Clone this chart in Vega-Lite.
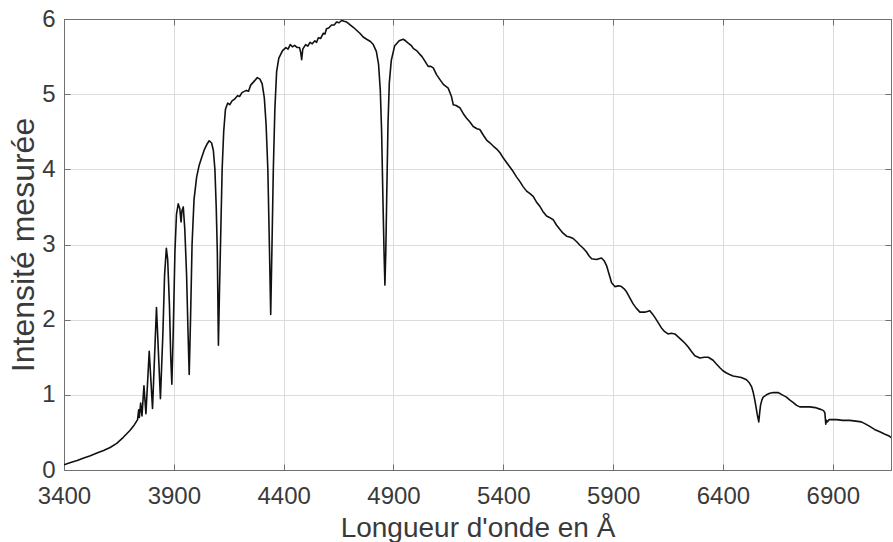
{
  "$schema": "https://vega.github.io/schema/vega-lite/v6.json",
  "width": 827,
  "height": 451,
  "autosize": {"type": "none"},
  "padding": {"left": 64, "top": 19, "right": 2, "bottom": 72},
  "background": "white",
  "config": {"view": {"stroke": null}, "font": "Liberation Sans"},
  "data": {"values": [
    {"w":3400,"v":0.07},{"w":3430,"v":0.1},{"w":3460,"v":0.125},{"w":3490,"v":0.16},{"w":3520,"v":0.19},{"w":3550,"v":0.225},{"w":3580,"v":0.26},{"w":3610,"v":0.3},{"w":3640,"v":0.355},{"w":3670,"v":0.435},{"w":3700,"v":0.525},{"w":3720,"v":0.6},{"w":3735,"v":0.67},{"w":3740,"v":0.8},{"w":3743,"v":0.7},{"w":3749,"v":0.89},{"w":3755,"v":0.72},{"w":3764,"v":1.12},{"w":3773,"v":0.75},{"w":3788,"v":1.58},{"w":3803,"v":0.82},{"w":3821,"v":2.16},{"w":3839,"v":0.95},{"w":3850,"v":1.8},{"w":3858,"v":2.6},{"w":3866,"v":2.95},{"w":3872,"v":2.8},{"w":3880,"v":2.2},{"w":3886,"v":1.5},{"w":3891,"v":1.14},{"w":3897,"v":1.8},{"w":3905,"v":2.9},{"w":3912,"v":3.4},{"w":3920,"v":3.54},{"w":3927,"v":3.48},{"w":3933,"v":3.3},{"w":3937,"v":3.45},{"w":3943,"v":3.5},{"w":3950,"v":3.2},{"w":3958,"v":2.6},{"w":3965,"v":1.8},{"w":3970,"v":1.27},{"w":3976,"v":2.0},{"w":3983,"v":3.0},{"w":3992,"v":3.6},{"w":4004,"v":3.9},{"w":4015,"v":4.05},{"w":4026,"v":4.15},{"w":4040,"v":4.27},{"w":4050,"v":4.33},{"w":4061,"v":4.38},{"w":4072,"v":4.35},{"w":4080,"v":4.25},{"w":4087,"v":4.0},{"w":4093,"v":3.5},{"w":4098,"v":2.9},{"w":4103,"v":1.66},{"w":4108,"v":2.4},{"w":4114,"v":3.2},{"w":4120,"v":4.0},{"w":4127,"v":4.5},{"w":4135,"v":4.8},{"w":4145,"v":4.88},{"w":4155,"v":4.86},{"w":4165,"v":4.91},{"w":4175,"v":4.93},{"w":4190,"v":4.98},{"w":4200,"v":4.97},{"w":4210,"v":5.02},{"w":4230,"v":5.05},{"w":4240,"v":5.04},{"w":4250,"v":5.12},{"w":4265,"v":5.17},{"w":4280,"v":5.22},{"w":4292,"v":5.2},{"w":4302,"v":5.14},{"w":4312,"v":4.95},{"w":4320,"v":4.6},{"w":4328,"v":4.0},{"w":4335,"v":3.0},{"w":4341,"v":2.07},{"w":4347,"v":3.0},{"w":4353,"v":4.0},{"w":4360,"v":4.8},{"w":4368,"v":5.3},{"w":4378,"v":5.48},{"w":4395,"v":5.58},{"w":4410,"v":5.62},{"w":4420,"v":5.6},{"w":4430,"v":5.66},{"w":4440,"v":5.63},{"w":4450,"v":5.65},{"w":4462,"v":5.62},{"w":4472,"v":5.62},{"w":4478,"v":5.55},{"w":4482,"v":5.46},{"w":4487,"v":5.6},{"w":4500,"v":5.66},{"w":4510,"v":5.64},{"w":4520,"v":5.69},{"w":4530,"v":5.67},{"w":4542,"v":5.71},{"w":4550,"v":5.69},{"w":4558,"v":5.75},{"w":4568,"v":5.74},{"w":4580,"v":5.81},{"w":4588,"v":5.8},{"w":4595,"v":5.87},{"w":4605,"v":5.88},{"w":4618,"v":5.92},{"w":4630,"v":5.92},{"w":4641,"v":5.96},{"w":4652,"v":5.95},{"w":4664,"v":5.98},{"w":4675,"v":5.97},{"w":4687,"v":5.96},{"w":4700,"v":5.93},{"w":4717,"v":5.89},{"w":4732,"v":5.85},{"w":4747,"v":5.81},{"w":4762,"v":5.76},{"w":4778,"v":5.73},{"w":4795,"v":5.7},{"w":4808,"v":5.66},{"w":4822,"v":5.57},{"w":4832,"v":5.4},{"w":4840,"v":5.05},{"w":4846,"v":4.5},{"w":4852,"v":3.6},{"w":4857,"v":2.9},{"w":4861,"v":2.46},{"w":4865,"v":2.9},{"w":4869,"v":3.6},{"w":4875,"v":4.6},{"w":4881,"v":5.15},{"w":4890,"v":5.45},{"w":4905,"v":5.64},{"w":4926,"v":5.71},{"w":4944,"v":5.73},{"w":4955,"v":5.71},{"w":4967,"v":5.68},{"w":4980,"v":5.65},{"w":4990,"v":5.61},{"w":5005,"v":5.58},{"w":5020,"v":5.53},{"w":5030,"v":5.5},{"w":5043,"v":5.44},{"w":5058,"v":5.37},{"w":5070,"v":5.37},{"w":5081,"v":5.35},{"w":5096,"v":5.26},{"w":5110,"v":5.2},{"w":5127,"v":5.13},{"w":5149,"v":5.08},{"w":5164,"v":4.97},{"w":5172,"v":4.86},{"w":5185,"v":4.85},{"w":5202,"v":4.82},{"w":5218,"v":4.74},{"w":5233,"v":4.68},{"w":5248,"v":4.63},{"w":5263,"v":4.57},{"w":5280,"v":4.54},{"w":5293,"v":4.53},{"w":5310,"v":4.45},{"w":5324,"v":4.39},{"w":5340,"v":4.35},{"w":5354,"v":4.31},{"w":5370,"v":4.27},{"w":5385,"v":4.22},{"w":5400,"v":4.15},{"w":5415,"v":4.09},{"w":5430,"v":4.03},{"w":5445,"v":3.97},{"w":5460,"v":3.9},{"w":5475,"v":3.84},{"w":5490,"v":3.77},{"w":5506,"v":3.71},{"w":5520,"v":3.68},{"w":5536,"v":3.64},{"w":5550,"v":3.57},{"w":5566,"v":3.51},{"w":5580,"v":3.44},{"w":5597,"v":3.38},{"w":5610,"v":3.36},{"w":5627,"v":3.33},{"w":5642,"v":3.26},{"w":5658,"v":3.2},{"w":5672,"v":3.15},{"w":5688,"v":3.11},{"w":5702,"v":3.1},{"w":5718,"v":3.08},{"w":5733,"v":3.04},{"w":5749,"v":2.99},{"w":5764,"v":2.95},{"w":5779,"v":2.9},{"w":5790,"v":2.85},{"w":5802,"v":2.81},{"w":5824,"v":2.8},{"w":5847,"v":2.82},{"w":5860,"v":2.78},{"w":5870,"v":2.72},{"w":5882,"v":2.6},{"w":5893,"v":2.49},{"w":5908,"v":2.44},{"w":5925,"v":2.45},{"w":5938,"v":2.44},{"w":5950,"v":2.41},{"w":5961,"v":2.37},{"w":5976,"v":2.29},{"w":5991,"v":2.21},{"w":6006,"v":2.15},{"w":6022,"v":2.1},{"w":6044,"v":2.1},{"w":6067,"v":2.12},{"w":6078,"v":2.08},{"w":6090,"v":2.03},{"w":6105,"v":1.96},{"w":6120,"v":1.89},{"w":6135,"v":1.84},{"w":6150,"v":1.81},{"w":6165,"v":1.82},{"w":6181,"v":1.81},{"w":6196,"v":1.77},{"w":6211,"v":1.73},{"w":6226,"v":1.69},{"w":6241,"v":1.64},{"w":6256,"v":1.58},{"w":6272,"v":1.52},{"w":6295,"v":1.49},{"w":6315,"v":1.5},{"w":6333,"v":1.5},{"w":6355,"v":1.46},{"w":6370,"v":1.41},{"w":6386,"v":1.36},{"w":6400,"v":1.32},{"w":6416,"v":1.29},{"w":6430,"v":1.27},{"w":6446,"v":1.25},{"w":6465,"v":1.24},{"w":6484,"v":1.23},{"w":6507,"v":1.2},{"w":6520,"v":1.16},{"w":6530,"v":1.11},{"w":6538,"v":1.03},{"w":6545,"v":0.93},{"w":6551,"v":0.83},{"w":6556,"v":0.74},{"w":6563,"v":0.64},{"w":6567,"v":0.76},{"w":6571,"v":0.86},{"w":6577,"v":0.93},{"w":6583,"v":0.97},{"w":6598,"v":1.0},{"w":6613,"v":1.02},{"w":6630,"v":1.03},{"w":6651,"v":1.03},{"w":6670,"v":1.0},{"w":6689,"v":0.97},{"w":6705,"v":0.93},{"w":6719,"v":0.9},{"w":6735,"v":0.86},{"w":6750,"v":0.84},{"w":6775,"v":0.84},{"w":6795,"v":0.84},{"w":6820,"v":0.83},{"w":6841,"v":0.81},{"w":6858,"v":0.79},{"w":6864,"v":0.76},{"w":6868,"v":0.61},{"w":6872,"v":0.66},{"w":6876,"v":0.64},{"w":6883,"v":0.67},{"w":6900,"v":0.67},{"w":6917,"v":0.67},{"w":6945,"v":0.66},{"w":6977,"v":0.66},{"w":7005,"v":0.65},{"w":7030,"v":0.64},{"w":7050,"v":0.61},{"w":7068,"v":0.58},{"w":7090,"v":0.54},{"w":7114,"v":0.51},{"w":7135,"v":0.48},{"w":7159,"v":0.45},{"w":7165,"v":0.43}
  ]},
  "layer": [
    {
      "mark": {"type": "line", "color": "#111111", "strokeWidth": 1.6, "clip": true, "strokeJoin": "round"},
      "encoding": {
        "x": {"field": "w", "type": "quantitative",
          "scale": {"domain": [3400, 7165], "nice": false, "zero": false},
          "axis": {"orient": "bottom", "values": [3400,3900,4400,4900,5400,5900,6400,6900], "format": "d",
            "title": "Longueur d'onde en Å", "grid": true, "gridColor": "#dcdcdc", "gridWidth": 1,
            "domainColor": "#707070", "domainWidth": 1, "tickColor": "#707070", "tickSize": -6, "tickWidth": 1,
            "labelPadding": 20.5, "labelFontSize": 24, "labelColor": "#3a3a3a", "labelFlush": false, "labelOverlap": false,
            "titleFontSize": 28, "titleFontWeight": "normal", "titleColor": "#3a3a3a",
            "titleX": 413.5, "titleY": 66.5, "titleBaseline": "alphabetic", "titleAlign": "center"}},
        "y": {"field": "v", "type": "quantitative",
          "scale": {"domain": [0, 6], "nice": false},
          "axis": {"orient": "left", "values": [0,1,2,3,4,5,6], "format": "d",
            "title": "Intensité mesurée", "grid": true, "gridColor": "#dcdcdc", "gridWidth": 1,
            "domainColor": "#707070", "domainWidth": 1, "tickColor": "#707070", "tickSize": -6, "tickWidth": 1,
            "labelPadding": 15, "labelFontSize": 24, "labelColor": "#3a3a3a", "labelFlush": false, "labelOverlap": false,
            "titleFontSize": 32, "titleFontWeight": "normal", "titleColor": "#3a3a3a",
            "titleX": -31, "titleY": 225.5, "titleBaseline": "alphabetic", "titleAlign": "center", "titleAngle": -90}}
      }
    },
    {
      "mark": {"type": "line", "opacity": 0},
      "encoding": {
        "x": {"field": "w", "type": "quantitative",
          "scale": {"domain": [3400, 7165], "nice": false, "zero": false},
          "axis": {"orient": "top", "values": [3400,3900,4400,4900,5400,5900,6400,6900], "title": null, "labels": false, "grid": false,
            "domainColor": "#707070", "domainWidth": 1, "tickColor": "#707070", "tickSize": -6, "tickWidth": 1}},
        "y": {"field": "v", "type": "quantitative",
          "scale": {"domain": [0, 6], "nice": false},
          "axis": {"orient": "right", "values": [0,1,2,3,4,5,6], "title": null, "labels": false, "grid": false,
            "domainColor": "#707070", "domainWidth": 1, "tickColor": "#707070", "tickSize": -6, "tickWidth": 1}}
      }
    }
  ],
  "resolve": {"axis": {"x": "independent", "y": "independent"}}
}
